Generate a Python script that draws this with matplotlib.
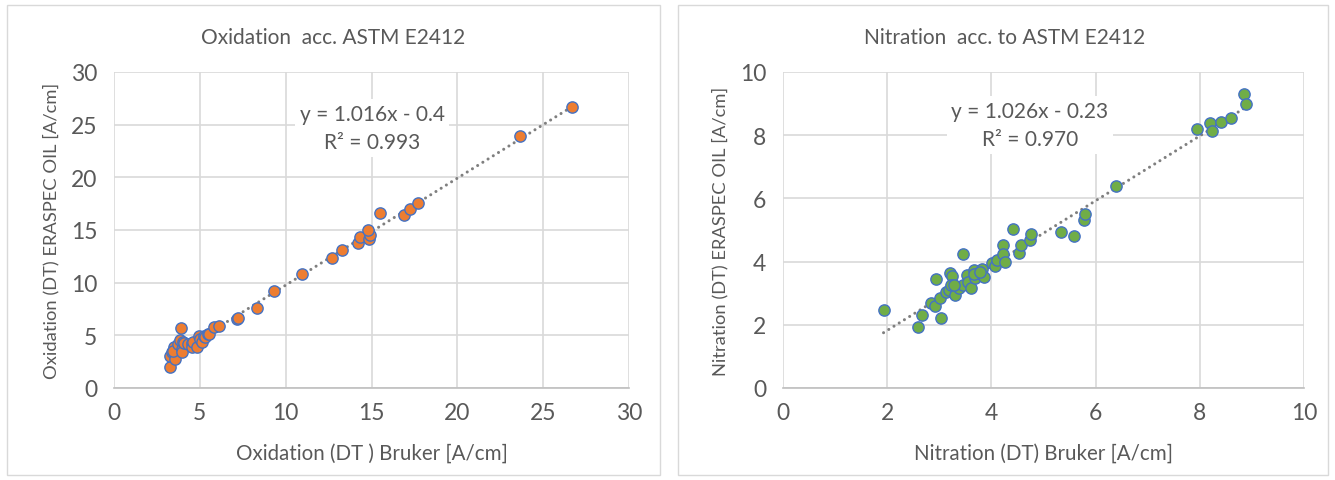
import matplotlib
matplotlib.use("Agg")
import matplotlib.pyplot as plt
from matplotlib.patches import Rectangle
import numpy as np

plt.rcParams['font.family'] = ['Lato', 'DejaVu Sans']

# ---------------- data ----------------
ox_bruker = [3.27, 3.27, 3.36, 3.50, 3.56, 3.46, 3.75, 3.85, 3.90, 3.95, 3.95, 4.04,
             4.10, 4.33, 4.53, 4.57, 4.62, 4.82, 4.97, 5.01, 5.11, 5.27, 5.31, 5.50,
             5.55, 5.83, 6.14, 7.15, 7.25, 8.34, 9.33, 10.94, 12.69, 13.28, 14.24,
             14.34, 14.83, 14.93, 14.79, 15.47, 16.87, 17.22, 17.69, 23.67, 26.70]
ox_eraspec = [2.00, 3.00, 3.40, 3.87, 2.76, 3.50, 4.19, 4.60, 5.70, 3.71, 3.40, 4.35,
              4.26, 4.19, 4.29, 3.87, 4.35, 3.93, 4.92, 4.67, 4.35, 4.89, 4.83, 5.14,
              5.10, 5.78, 5.84, 6.55, 6.64, 7.55, 9.24, 10.86, 12.38, 13.14, 13.80,
              14.35, 14.19, 14.50, 14.98, 16.60, 16.40, 16.95, 17.55, 23.93, 26.70]
ox_slope, ox_intercept, ox_r2 = 1.016, -0.4, 0.993

ni_bruker = [1.93, 2.59, 2.66, 2.84, 2.92, 2.93, 3.04, 3.01, 3.12, 3.18, 3.20, 3.24,
             3.23, 3.31, 3.38, 3.45, 3.46, 3.53, 3.55, 3.60, 3.66, 3.68, 3.74, 3.82,
             3.85, 4.01, 4.07, 4.11, 4.22, 4.22, 4.26, 4.41, 4.53, 4.57, 4.74, 4.76,
             5.34, 5.59, 5.78, 5.80, 6.40, 7.94, 8.20, 8.24, 8.41, 8.60, 8.85, 8.89,
             3.28, 3.66, 3.78]
ni_eraspec = [2.48, 1.93, 2.30, 2.70, 2.61, 3.46, 2.21, 2.85, 3.03, 3.11, 3.64, 3.56,
              3.27, 2.95, 3.18, 3.27, 4.23, 3.58, 3.35, 3.18, 3.75, 3.48, 3.65, 3.77,
              3.51, 3.95, 3.85, 4.04, 4.54, 4.23, 3.98, 5.02, 4.28, 4.53, 4.67, 4.88,
              4.93, 4.81, 5.33, 5.51, 6.38, 8.20, 8.38, 8.13, 8.43, 8.55, 9.30, 8.99,
              3.25, 3.60, 3.68]
ni_slope, ni_intercept, ni_r2 = 1.026, -0.23, 0.970

ox_ticks = [0, 5, 10, 15, 20, 25, 30]
ni_ticks = [0, 2, 4, 6, 8, 10]

TXT = '#595959'
GRID = '#d9d9d9'

W, H = 1335, 481
fig = plt.figure(figsize=(W / 100, H / 100), dpi=100)

# panel borders
for (x0, x1) in [(7, 660), (678, 1328)]:
    fig.patches.append(Rectangle((x0 / W, 1 - 476 / H), (x1 - x0) / W, (476 - 6) / H,
                                 transform=fig.transFigure, fill=False,
                                 edgecolor=GRID, linewidth=1.0))


def make_axes(px_l, px_r, px_t, px_b):
    return fig.add_axes([px_l / W, 1 - px_b / H, (px_r - px_l) / W, (px_b - px_t) / H])


def style(ax, ticks):
    ax.set_xlim(ticks[0], ticks[-1])
    ax.set_ylim(ticks[0], ticks[-1])
    ax.set_xticks(ticks)
    ax.set_yticks(ticks)
    ax.grid(True, color=GRID, linewidth=1.2)
    ax.set_axisbelow(True)
    for s in ['top', 'right', 'left']:
        ax.spines[s].set_visible(False)
    ax.spines['bottom'].set_color('#bfbfbf')
    ax.spines['bottom'].set_linewidth(1.2)
    ax.tick_params(length=0, labelsize=16.5, labelcolor=TXT)
    ax.tick_params(axis='x', pad=10)
    ax.tick_params(axis='y', pad=12)


def panel(ax, xs, ys, slope, intercept, r2, color, title, xlabel, ylabel,
          ticks, eq_pos, title_x):
    style(ax, ticks)
    xs = np.asarray(xs)
    xl = np.array([xs.min(), xs.max()])
    ax.plot(xl, slope * xl + intercept, linestyle=(0, (0.01, 2.0)),
            color='#7f7f7f', linewidth=2.2, dash_capstyle='round', zorder=2)
    ax.scatter(xs, ys, s=66, c=color, edgecolors='#4472C4', linewidths=1.0, zorder=3)
    sign = '-' if intercept < 0 else '+'
    eq = f"y = {slope:.3f}x {sign} {abs(intercept):g}\nR² = {r2:.3f}"
    ax.text(eq_pos[0], eq_pos[1], eq, transform=ax.transAxes, ha='center', va='center',
            fontsize=15, color=TXT, linespacing=1.55,
            bbox=dict(boxstyle='square,pad=0.2', facecolor='white', edgecolor='none'),
            zorder=4)
    ax.set_xlabel(xlabel, fontsize=14.8, color=TXT, labelpad=14)
    ax.set_ylabel(ylabel, fontsize=13.2, color=TXT, labelpad=8)
    fig.text(title_x / W, 1 - 38 / H, title, ha='center', va='center',
             fontsize=15, color=TXT)


ax1 = make_axes(114, 629, 73, 389)
panel(ax1, ox_bruker, ox_eraspec, ox_slope, ox_intercept, ox_r2, '#ED7D31',
      'Oxidation  acc. ASTM E2412', 'Oxidation (DT ) Bruker [A/cm]',
      'Oxidation (DT) ERASPEC OIL [A/cm]', ox_ticks, ((372 - 114) / 515, (389 - 129) / 316), 333)

ax2 = make_axes(783, 1304, 73, 389)
panel(ax2, ni_bruker, ni_eraspec, ni_slope, ni_intercept, ni_r2, '#70AD47',
      'Nitration  acc. to ASTM E2412', 'Nitration (DT) Bruker [A/cm]',
      'Nitration (DT) ERASPEC OIL [A/cm]', ni_ticks, ((1030 - 783) / 521, (389 - 126) / 316), 1005)

fig.savefig('out.png', dpi=100, facecolor='white')
